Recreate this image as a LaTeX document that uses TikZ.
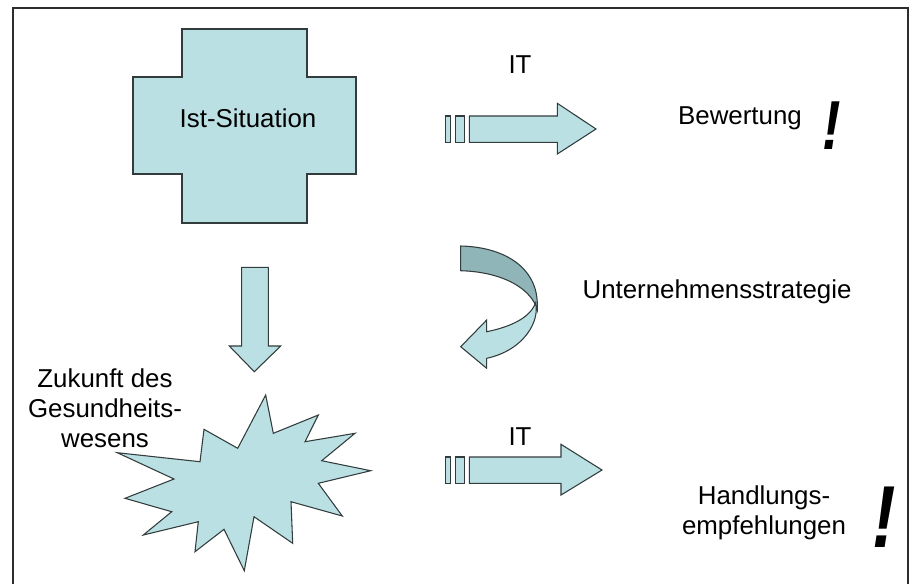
\documentclass[tikz,border=0pt]{standalone}
\usepackage{fontspec}
\setmainfont{Liberation Sans}
\begin{document}
\begin{tikzpicture}[x=0.75pt,y=-0.75pt,
  shapefill/.style={fill=paleblue,draw=outline,line width=0.8pt,line join=miter},
  backfill/.style={fill=shadeblue,draw=outline,line width=0.8pt},
  lbl/.style={font=\fontsize{19.4}{22.5}\selectfont,text=black,inner sep=0pt,align=center},
  bang/.style={font=\fontsize{#1}{#1}\selectfont\bfseries\itshape,inner sep=0pt,xscale=0.8},
  frame/.style={draw=framegray,line width=1.5pt}]
\definecolor{paleblue}{RGB}{187,224,227}
\definecolor{shadeblue}{RGB}{143,181,184}
\definecolor{outline}{RGB}{50,60,60}
\definecolor{framegray}{RGB}{45,45,45}
\useasboundingbox (0,0) rectangle (912,583);

% frame (open at the bottom)
\draw[frame] (13,590) -- (13,8) -- (908,8) -- (908,590);

% cross shape
\draw[shapefill] (182,29) -- (307,29) -- (307,77) -- (356,77) -- (356,174) -- (307,174)
  -- (307,223) -- (182,223) -- (182,174) -- (133,174) -- (133,77) -- (182,77) -- cycle;
\node[lbl] (ist) at (248,118) {Ist-Situation};

% upper striped block arrow
\draw[shapefill] (445.5,116) rectangle (450.5,142.3);
\draw[shapefill] (455.3,116) rectangle (464.7,142.3);
\draw[shapefill] (469.3,116) -- (557.3,116) -- (557.3,103.3) -- (596,129) -- (557.3,154)
  -- (557.3,142.3) -- (469.3,142.3) -- cycle;
\node[lbl] (it1) at (520,65) {IT};
\node[lbl] (bew) at (740,118) {Bewertung};
\node[bang=52] (bang1) at (832,126) {!};

% down arrow
\draw[shapefill] (241.7,267.3) -- (268.3,267.3) -- (268.3,346) -- (280.7,346) -- (254.3,371.7)
  -- (229.3,346) -- (241.7,346) -- cycle;

% curved arrow: back face, then front face with head
\draw[backfill] (460.7,246) .. controls (505,247) and (537,268) .. (537.3,304)
  -- (537.3,310) .. controls (532,290) and (505,272) .. (460.7,270.7) -- cycle;
\draw[shapefill] (486.7,358.3) -- (486.7,368.3) -- (460.7,346.7) -- (486.7,320) -- (486.7,331.7)
  .. controls (510,327) and (530,318) .. (535.5,303)
  .. controls (540,320) and (525,350) .. (486.7,358.3) -- cycle;
\node[lbl] (strat) at (717,292) {Unternehmensstrategie};

% starburst
\draw[shapefill] (117.3,452.7) -- (200,461.7) -- (204,429.3) -- (237.7,448.3) -- (265.7,395)
  -- (273.3,433.3) -- (318.3,415) -- (305,441.7) -- (355,433.3) -- (321.7,460.7) -- (370.7,470.7)
  -- (318.3,483.3) -- (342.3,516) -- (291,501.7) -- (292.7,543.3) -- (254,516.7) -- (244.3,570.7)
  -- (224,529.3) -- (195,551.7) -- (198.3,521.7) -- (143.3,535) -- (171.7,511.7) -- (125,498.3)
  -- (174,479) -- cycle;
\node[lbl] (zuk) at (105,408) {Zukunft des\\Gesundheits-\\wesens};

% lower striped block arrow
\draw[shapefill] (445.5,457) rectangle (450.5,483.3);
\draw[shapefill] (455.3,457) rectangle (464.7,483.3);
\draw[shapefill] (469.3,457) -- (561,457) -- (561,444.3) -- (602,470) -- (561,495)
  -- (561,483.3) -- (469.3,483.3) -- cycle;
\node[lbl] (it2) at (520,437) {IT};
\node[lbl] (handl) at (764,513) {Handlungs-\\empfehlungen};
\node[bang=66] (bang2) at (884,517) {!};
\end{tikzpicture}
\end{document}
